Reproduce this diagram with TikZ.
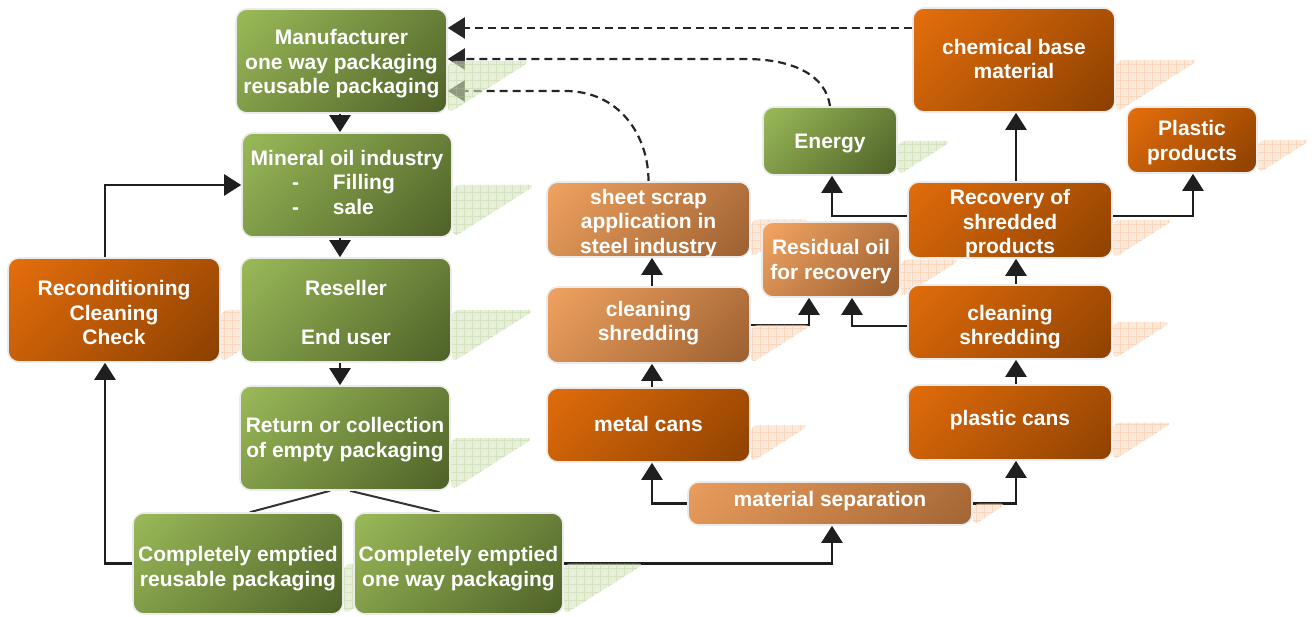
\documentclass[tikz,border=0pt]{standalone}
\usepackage{fontspec}
\setmainfont{Liberation Sans}
\usetikzlibrary{arrows.meta,calc}
\pgfdeclarelayer{bg}
\pgfdeclarelayer{shd}
\pgfsetlayers{bg,shd,main}
\definecolor{gA}{HTML}{9DBD5A}
\definecolor{gB}{HTML}{4B5E26}
\definecolor{oA}{HTML}{E8700C}
\definecolor{oB}{HTML}{883E00}
\definecolor{lA}{HTML}{F7A865}
\definecolor{lB}{HTML}{955A2C}
\definecolor{gSf}{HTML}{D5E4BE}
\definecolor{gSg}{HTML}{B5CC92}
\definecolor{oSf}{HTML}{FCDAC1}
\definecolor{oSg}{HTML}{F2B586}
\newcommand\boxshade[2]{%
  \path let \p1=(path picture bounding box.south west),
            \p2=(path picture bounding box.north east),
            \n1={max(0.37*(\x2-\x1+\y2-\y1),0.56*(\x2-\x1),0.56*(\y2-\y1))} in
   [shade, top color=#1, bottom color=#2, shading angle=45]
   ([shift={(-\n1,-\n1)}]path picture bounding box.center) rectangle
   ([shift={(\n1,\n1)}]path picture bounding box.center);}
\tikzset{
  box/.style={rounded corners=11pt, draw=black!8, line width=1.6pt, inner sep=0pt},
  gbox/.style={box, path picture={\boxshade{gA}{gB}}},
  obox/.style={box, path picture={\boxshade{oA}{oB}}},
  lbox/.style={box, path picture={\boxshade{lA}{lB}}},
  txt/.style={text=white, font=\fontsize{21}{24.5}\selectfont\bfseries, align=center, inner sep=0pt},
  arr/.style={line width=2.4pt, draw=black!88, -{Triangle[width=21pt,length=17pt]}},
  darr/.style={line width=2.2pt, draw=black!85, dash pattern=on 8pt off 5pt,
    -{Triangle[width=21pt,length=17pt]}},
  ln/.style={line width=2pt, draw=black!80}
}
% style, name, x, y, w, h, text shift, text
\newcommand\bx[8][gbox]{%
  \node[#1, minimum width=#5pt, minimum height=#6pt] (#2) at (#3,#4) {};
  \node[txt] (#2t) at ($(#2.center)+(0,#7)$) {#8};}
\newcommand\shd[3]{%
  \begin{scope}
    \clip[rounded corners=7pt] (#1.east) -- ($(#1.east)+(#2,0)$) -- (#1.south east) -- cycle;
    \fill[#3Sf, opacity=0.6] ($(#1.south east)+(-5,5)$) rectangle ($(#1.east)+(#2+5,-5)$);
    \draw[#3Sg, opacity=0.35, line width=0.5pt, step=8pt] ($(#1.south east)+(-5,5)$) grid ($(#1.east)+(#2+5,-5)$);
  \end{scope}}
\begin{document}
\begin{tikzpicture}[x=1pt,y=-1pt]
\useasboundingbox (0,0) rectangle (1314,617);
% nodes
\bx{man}{341.5}{61}{211}{104}{3}{Manufacturer\\one way packaging\\reusable packaging}
\bx{min}{347}{185}{210}{104}{-3}{Mineral oil industry\\\makebox[110pt][l]{-\hspace{34pt}Filling}\\\makebox[110pt][l]{-\hspace{34pt}sale}}
\bx{res}{346}{310}{210}{104}{2}{Reseller\\[24.5pt]End user}
\bx{ret}{345}{438}{210}{104}{1.5}{Return or collection\\of empty packaging}
\bx{cer}{238}{563.5}{210}{101}{5}{Completely emptied\\reusable packaging}
\bx{cow}{458.5}{563.5}{209}{101}{5}{Completely emptied\\one way packaging}
\bx[obox]{rec}{114}{310}{212}{104}{2.5}{Reconditioning\\Cleaning\\Check}
\bx[lbox]{ss}{648.5}{219.5}{203}{75}{4}{sheet scrap\\application in\\steel industry}
\bx[lbox]{cs1}{648.5}{325}{203}{76}{-2}{cleaning\\shredding}
\bx[obox]{mc}{648.5}{425}{203}{74}{-1}{metal cans}
\bx[lbox]{ms}{830}{503.5}{284}{43}{-2}{material separation}
\bx[lbox]{ro}{831}{259.5}{138}{75}{2}{Residual oil\\for recovery}
\bx{en}{830}{141}{134}{68}{3}{Energy}
\bx[obox]{chem}{1014}{60}{202}{104}{-1}{chemical base\\material}
\bx[obox]{pp}{1192}{140}{130}{66}{2.5}{Plastic\\products}
\bx[obox]{rsp}{1010}{220}{204}{76}{4}{Recovery of\\shredded\\products}
\bx[obox]{cs2}{1010}{322}{204}{74}{5}{cleaning\\shredding}
\bx[obox]{pc}{1010}{422.5}{204}{75}{-2}{plastic cans}
% helper coordinates
\coordinate (x105) at (105,0);
\coordinate (x340) at (340,0);
\coordinate (x652) at (652,0);
\coordinate (x809) at (809,0);
\coordinate (x852) at (852,0);
\coordinate (x832) at (832,0);
\coordinate (x1016) at (1016,0);
\coordinate (x1193) at (1193,0);
\coordinate (y216) at (0,216);
\coordinate (y326) at (0,326);
\coordinate (y28) at (0,28);
\coordinate (y59) at (0,59);
\coordinate (y91) at (0,91);
\coordinate (ce) at (745,59);
\coordinate (cs) at (565,91);
% shadows
\begin{pgfonlayer}{shd}
\shd{man}{83}{g}
\shd{min}{83}{g}
\shd{res}{83}{g}
\shd{ret}{83}{g}
\shd{cer}{81}{g}
\shd{cow}{81}{g}
\shd{en}{54}{g}
\shd{rec}{83}{o}
\shd{ss}{60}{o}
\shd{cs1}{61}{o}
\shd{mc}{59}{o}
\shd{ms}{34}{o}
\shd{ro}{60}{o}
\shd{chem}{83}{o}
\shd{pp}{53}{o}
\shd{rsp}{61}{o}
\shd{cs2}{59}{o}
\shd{pc}{60}{o}
\end{pgfonlayer}
% connectors
\begin{pgfonlayer}{bg}
\draw[arr] (x340 |- man.south) -- (x340 |- min.north);
\draw[arr] (x340 |- min.south) -- (x340 |- res.north);
\draw[arr] (x340 |- res.south) -- (x340 |- ret.north);
\draw[ln] ($(ret.south)+(-15,0)$) -- ($(cer.north)+(12,0)$);
\draw[ln] ($(ret.south)+(5,0)$) -- ($(cow.north)+(-19,0)$);
\draw[arr] (cer.west) -| (x105 |- rec.south);
\draw[arr] (x105 |- rec.north) |- (min.west);
\draw[arr] (cow.east) -| (x832 |- ms.south);
\draw[arr] (ms.west) -| (x652 |- mc.south);
\draw[arr] (ms.east) -| (x1016 |- pc.south);
\draw[arr] (x652 |- mc.north) -- (x652 |- cs1.south);
\draw[arr] (x652 |- cs1.north) -- (x652 |- ss.south);
\draw[arr] (cs1.east) -| (x809 |- ro.south);
\draw[arr] (cs2.west |- y326) -| (x852 |- ro.south);
\draw[arr] (x1016 |- pc.north) -- (x1016 |- cs2.south);
\draw[arr] (x1016 |- cs2.north) -- (x1016 |- rsp.south);
\draw[arr] (x1016 |- rsp.north) -- (x1016 |- chem.south);
\draw[arr] (rsp.west |- y216) -| (x832 |- en.south);
\draw[arr] (rsp.east |- y216) -| (x1193 |- pp.south);
\draw[darr] (chem.west |- y28) -- (man.east |- y28);
\draw[darr] (en.north) .. controls +(-4,-30) and +(50,0) .. (ce) -- (man.east |- y59);
\draw[darr] (ss.north) .. controls +(0,-45) and +(55,0) .. (cs) -- (man.east |- y91);
\end{pgfonlayer}
\end{tikzpicture}
\end{document}
